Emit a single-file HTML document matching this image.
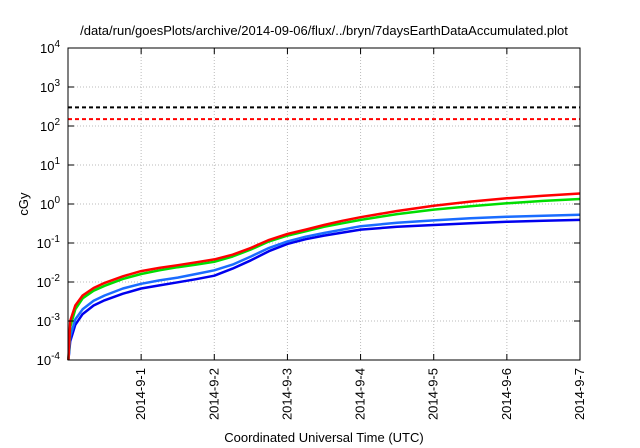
<!DOCTYPE html>
<html><head><meta charset="utf-8"><style>
body{margin:0;background:#fff;}
svg{display:block;font-family:"Liberation Sans",sans-serif;}
</style></head><body>
<svg id="c" width="640" height="448" viewBox="0 0 640 448">
<text x="324" y="35" font-size="13" text-anchor="middle">/data/run/goesPlots/archive/2014-09-06/flux/../bryn/7daysEarthDataAccumulated.plot</text>
<text x="324" y="442" font-size="13" text-anchor="middle">Coordinated Universal Time (UTC)</text>
<text x="0" y="0" font-size="13" text-anchor="middle" transform="translate(28,204) rotate(-90)">cGy</text>
<g id="grid"></g><g id="lines"></g><g id="axes"></g>
</svg>
<script>
const days=[0.005,0.03,0.1,0.2,0.35,0.5,0.75,1,1.25,1.5,1.75,2,2.25,2.5,2.75,3,3.25,3.5,3.75,4,4.5,5,5.5,6,6.5,7];
const red=[1e-4,1e-3,2.5e-3,4.5e-3,7e-3,9.5e-3,0.014,0.019,0.023,0.027,0.032,0.038,0.05,0.075,0.12,0.17,0.22,0.29,0.37,0.46,0.66,0.9,1.15,1.4,1.62,1.86];
const green=[1e-4,7e-4,2e-3,3.8e-3,6e-3,8e-3,0.012,0.016,0.02,0.024,0.028,0.033,0.045,0.068,0.11,0.155,0.2,0.26,0.32,0.39,0.55,0.72,0.88,1.04,1.2,1.34];
const lightBlue=[1e-4,4e-4,1.1e-3,2e-3,3.3e-3,4.5e-3,6.8e-3,0.009,0.011,0.013,0.016,0.02,0.028,0.045,0.075,0.11,0.145,0.18,0.22,0.27,0.33,0.38,0.43,0.47,0.5,0.53];
const darkBlue=[1e-4,3e-4,8e-4,1.5e-3,2.5e-3,3.4e-3,5e-3,0.0068,0.0082,0.0098,0.0118,0.0145,0.022,0.036,0.062,0.095,0.125,0.155,0.185,0.22,0.26,0.29,0.32,0.35,0.37,0.39];
const thresholds=[300,150];
const xTicks=["2014-9-1","2014-9-2","2014-9-3","2014-9-4","2014-9-5","2014-9-6","2014-9-7"];
const yExps=[-4,-3,-2,-1,0,1,2,3,4];
const L=68,R=580,T=48,B=360;
const X=d=>L+(R-L)*d/7;
const Y=v=>B-(Math.log10(v)+4)*(B-T)/8;
const NS="http://www.w3.org/2000/svg";
function mk(t,a,p){const e=document.createElementNS(NS,t);for(const k in a)e.setAttribute(k,a[k]);p.appendChild(e);return e;}
const g=document.getElementById('grid'),ln=document.getElementById('lines'),ax=document.getElementById('axes');
yExps.forEach(e=>{const y=Y(Math.pow(10,e));
 if(e>-4&&e<4){const l=mk('line',{x1:L,x2:R,y1:y,y2:y,stroke:'#bbb','stroke-dasharray':'1,2'},g);
 
 }
 const t=mk('text',{x:L-8,y:y+5,'font-size':13,'text-anchor':'end'},ax);
 
 
 t.innerHTML='10<tspan dy="-6" font-size="10">'+e+'</tspan>';
 mk('line',{x1:L,x2:L+6,y1:y,y2:y,stroke:'#000'},ax);mk('line',{x1:R,x2:R-6,y1:y,y2:y,stroke:'#000'},ax);
});
xTicks.forEach((s,i)=>{const x=X(i+1);
 if(i<6){const l=mk('line',{x1:x,x2:x,y1:T,y2:B,stroke:'#bbb','stroke-dasharray':'1,2'},g);
 
 }
 mk('line',{x1:x,x2:x,y1:B,y2:B-6,stroke:'#000'},ax);mk('line',{x1:x,x2:x,y1:T,y2:T+6,stroke:'#000'},ax);
 const t=mk('text',{x:0,y:0,'font-size':13,'text-anchor':'end',transform:`translate(${x+4},${B+8}) rotate(-90)`},ax);
 
 
 t.textContent=s;
});
const thrCols=['#000','#f00'];
thresholds.forEach((v,i)=>{const l=mk('line',{x1:L,x2:R,y1:Y(v),y2:Y(v),stroke:thrCols[i],'stroke-width':2,'stroke-dasharray':'4,3'},ln);
 
 });
const series=[[darkBlue,'#0000ee','series-dark-blue'],[lightBlue,'#1a6cff','series-light-blue'],[green,'#00dd00','series-green'],[red,'#ff0000','series-red']];
series.forEach(([vals,col,name])=>{
 const pts=vals.map((v,i)=>X(days[i]).toFixed(1)+','+Y(v).toFixed(1)).join(' ');
 const p=mk('polyline',{points:pts,fill:'none',stroke:col,'stroke-width':2.5,'stroke-linejoin':'round'},ln);
 
 
});
const f=mk('rect',{x:L,y:T,width:R-L,height:B-T,fill:'none',stroke:'#000','stroke-width':1},ax);


</script>
</body></html>
